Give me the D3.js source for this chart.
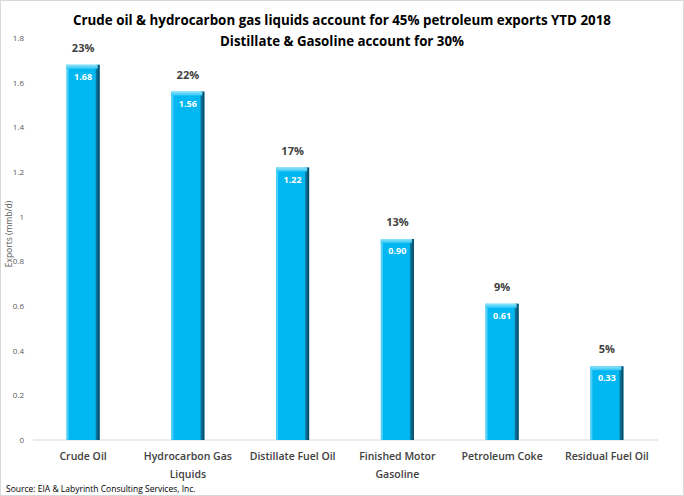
<!DOCTYPE html>
<html>
<head>
<meta charset="utf-8">
<script src="https://cdn.jsdelivr.net/npm/d3@7"></script>
<style>
  body { margin: 0; background: #fff; }
  text { font-family: "Open Sans", "Noto Sans", sans-serif; }
</style>
</head>
<body>
<div id="chart"></div>
<script>
// Size
const WIDTH = 684;
const HEIGHT = 496;

// Data
const categories = ["Crude Oil", "Hydrocarbon Gas Liquids", "Distillate Fuel Oil",
  "Finished Motor Gasoline", "Petroleum Coke", "Residual Fuel Oil"];
const catLines = [["Crude Oil"], ["Hydrocarbon Gas", "Liquids"], ["Distillate Fuel Oil"],
  ["Finished Motor", "Gasoline"], ["Petroleum Coke"], ["Residual Fuel Oil"]];
const exportsMmbd = [1.68, 1.56, 1.22, 0.90, 0.61, 0.33];
const shares = [23, 22, 17, 13, 9, 5];
const yTicks = [0, 0.2, 0.4, 0.6, 0.8, 1, 1.2, 1.4, 1.6, 1.8];

const svg = d3.select("#chart").append("svg")
  .attr("width", WIDTH).attr("height", HEIGHT);

// Outer border
svg.append("rect")
  .attr("x", 0.5).attr("y", 0.5)
  .attr("width", WIDTH - 1).attr("height", HEIGHT - 1)
  .attr("fill", "#fff").attr("stroke", "#d9d9d9");

// Gradients for the bevelled bars
const defs = svg.append("defs");
const rightEdge = defs.append("linearGradient").attr("id", "rightEdge")
  .attr("x1", 0).attr("x2", 1).attr("y1", 0).attr("y2", 0);
rightEdge.append("stop").attr("offset", 0).attr("stop-color", "#0a86b3");
rightEdge.append("stop").attr("offset", 1).attr("stop-color", "#0b3e55");
const topEdge = defs.append("linearGradient").attr("id", "topEdge")
  .attr("x1", 0).attr("x2", 0).attr("y1", 0).attr("y2", 1);
topEdge.append("stop").attr("offset", 0).attr("stop-color", "#8fe3fb");
topEdge.append("stop").attr("offset", 1).attr("stop-color", "#2ec6f5");

// Scales
const x = d3.scaleBand()
  .domain(categories)
  .range([31, 659])
  .paddingInner(0.685)
  .paddingOuter(0.34);

const y = d3.scaleLinear()
  .domain([0, 1.8])
  .range([440, 38]);

// Y axis (labels only)
const yAxis = d3.axisLeft(y).tickValues(yTicks).tickSize(0).tickPadding(0)
  .tickFormat(d => d3.format("")(+d.toFixed(1)));
const yg = svg.append("g").attr("transform", "translate(24,0)").call(yAxis);
yg.select(".domain").remove();
yg.selectAll("text")
  .attr("fill", "#595959")
  .style("font-family", "'Open Sans', sans-serif")
  .style("font-size", "8px");

// Baseline
svg.append("line")
  .attr("x1", 33).attr("x2", 658)
  .attr("y1", y(0)).attr("y2", y(0))
  .attr("stroke", "#d9d9d9").attr("stroke-width", 1);

// Bars
const bars = svg.selectAll(".bar").data(categories).enter()
  .append("g").attr("class", "bar");

bars.append("rect")
  .attr("x", d => x(d))
  .attr("y", (d, i) => y(exportsMmbd[i]))
  .attr("width", x.bandwidth())
  .attr("height", (d, i) => y(0) - y(exportsMmbd[i]))
  .attr("fill", "#00b7f1");

// left light edge
bars.append("rect")
  .attr("x", d => x(d))
  .attr("y", (d, i) => y(exportsMmbd[i]))
  .attr("width", 2)
  .attr("height", (d, i) => y(0) - y(exportsMmbd[i]))
  .attr("fill", "#4fcff7");

// right dark edge
bars.append("rect")
  .attr("x", d => x(d) + x.bandwidth() - 4)
  .attr("y", (d, i) => y(exportsMmbd[i]))
  .attr("width", 4)
  .attr("height", (d, i) => y(0) - y(exportsMmbd[i]))
  .attr("fill", "url(#rightEdge)");

// top bevel
bars.append("rect")
  .attr("x", d => x(d))
  .attr("y", (d, i) => y(exportsMmbd[i]))
  .attr("width", x.bandwidth() - 2)
  .attr("height", 4)
  .attr("fill", "url(#topEdge)");

// Value labels inside bars
bars.append("text")
  .attr("x", d => x(d) + x.bandwidth() / 2)
  .attr("y", (d, i) => y(exportsMmbd[i]) + 15)
  .attr("text-anchor", "middle")
  .attr("fill", "#fff")
  .style("font-size", "9px")
  .style("font-weight", "bold")
  .text((d, i) => exportsMmbd[i].toFixed(2));

// Share labels above bars
bars.append("text")
  .attr("x", d => x(d) + x.bandwidth() / 2)
  .attr("y", (d, i) => y(exportsMmbd[i]) - 13)
  .attr("text-anchor", "middle")
  .attr("fill", "#404040")
  .style("font-size", "11px")
  .style("font-weight", "bold")
  .text((d, i) => shares[i] + "%");

// Category labels
const catG = svg.selectAll(".cat").data(categories).enter()
  .append("text").attr("class", "cat")
  .attr("x", d => x(d) + x.bandwidth() / 2)
  .attr("y", 460)
  .attr("text-anchor", "middle")
  .attr("fill", "#404040")
  .style("font-size", "10.5px")
  .style("font-weight", "600");
catG.each(function (d, i) {
  const t = d3.select(this);
  catLines[i].forEach((line, j) => {
    t.append("tspan")
      .attr("x", x(d) + x.bandwidth() / 2)
      .attr("dy", j === 0 ? 0 : 18)
      .text(line);
  });
});

// Title
const title = svg.append("text")
  .attr("x", 342).attr("y", 25)
  .attr("text-anchor", "middle")
  .attr("fill", "#000")
  .style("font-size", "13.5px")
  .style("font-weight", "bold");
title.append("tspan").attr("x", 342).attr("dy", 0)
  .attr("textLength", 538).attr("lengthAdjust", "spacingAndGlyphs")
  .text("Crude oil & hydrocarbon gas liquids account for 45% petroleum exports YTD 2018");
title.append("tspan").attr("x", 342).attr("dy", 21)
  .attr("textLength", 244).attr("lengthAdjust", "spacingAndGlyphs")
  .text("Distillate & Gasoline account for 30%");

// Y axis title
svg.append("text")
  .attr("transform", "translate(12,234) rotate(-90)")
  .attr("text-anchor", "middle")
  .attr("fill", "#595959")
  .style("font-size", "8.5px")
  .text("Exports (mmb/d)");

// Source
svg.append("text")
  .attr("x", 6).attr("y", 492)
  .attr("fill", "#000")
  .style("font-size", "8.5px")
  .text("Source: EIA & Labyrinth Consulting Services, Inc.");
</script>
</body>
</html>
